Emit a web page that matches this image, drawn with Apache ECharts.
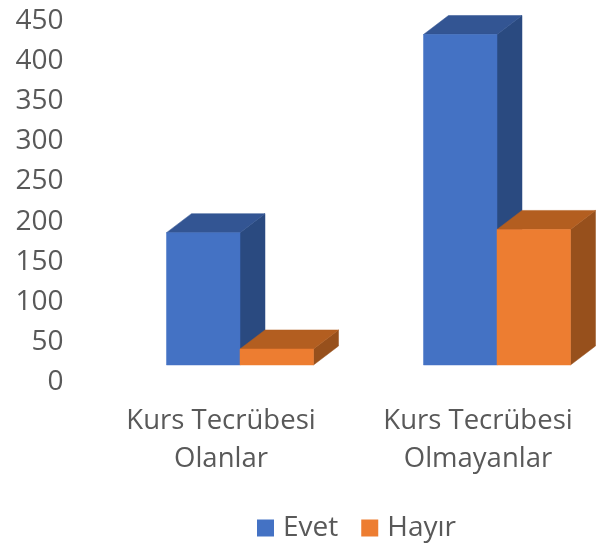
<!DOCTYPE html>
<html>
<head>
<meta charset="utf-8">
<style>html,body{margin:0;padding:0;background:#fff}#c{width:603px;height:547px}</style>
<script src="https://cdn.jsdelivr.net/npm/echarts@6/dist/echarts.min.js"></script>
</head>
<body>
<div id="c"></div>
<script>
const categories = ['Kurs Tecrübesi\nOlanlar', 'Kurs Tecrübesi\nOlmayanlar'];
const evet = [165, 412];
const hayir = [20, 169];
const yTicks = { min: 0, max: 450, interval: 50 };

const FONT = '"Open Sans", sans-serif';
const TEXT = '#595959';
const SHIFT_X = 19, SHIFT_Y = -17, DEPTH_X = 25, DEPTH_Y = -19, BAR_RATIO = 0.286;

function box(side, front, top, right) {
  return function (params, api) {
    const p = api.coord([api.value(0), api.value(1)]);
    const base = api.coord([api.value(0), 0]);
    const w = api.size([1, 0])[0] * BAR_RATIO;
    const cx = p[0] + SHIFT_X;
    const x0 = side < 0 ? cx - w : cx;
    const x1 = x0 + w;
    const yt = p[1] + SHIFT_Y;
    const yb = base[1] + SHIFT_Y;
    const poly = (pts, fill) => ({
      type: 'polygon',
      shape: { points: pts },
      style: { fill: fill, stroke: fill, lineWidth: 0.5 }
    });
    return {
      type: 'group',
      children: [
        poly([[x1, yt], [x1 + DEPTH_X, yt + DEPTH_Y], [x1 + DEPTH_X, yb + DEPTH_Y], [x1, yb]], right),
        poly([[x0, yt], [x0 + DEPTH_X, yt + DEPTH_Y], [x1 + DEPTH_X, yt + DEPTH_Y], [x1, yt]], top),
        poly([[x0, yt], [x1, yt], [x1, yb], [x0, yb]], front)
      ]
    };
  };
}

const chart = echarts.init(document.getElementById('c'), null, { renderer: 'canvas' });
chart.setOption({
  animation: false,
  backgroundColor: '#fff',
  grid: { left: 92.5, width: 514, top: 21, height: 361, outerBoundsMode: 'none' },
  legend: {
    data: [{ name: 'Evet', icon: 'rect' }, { name: 'Hayır', icon: 'rect' }],
    left: 257, top: 514, padding: 0, itemWidth: 17, itemHeight: 17, itemGap: 23,
    textStyle: { fontFamily: FONT, fontSize: 28, color: TEXT, padding: [3, 0, 0, 4] }
  },
  xAxis: {
    type: 'category', data: categories,
    axisLine: { show: false }, axisTick: { show: false },
    axisLabel: { fontFamily: FONT, fontSize: 27.5, color: TEXT, lineHeight: 38, margin: 20, interval: 0 }
  },
  yAxis: {
    type: 'value', min: yTicks.min, max: yTicks.max, interval: yTicks.interval,
    splitLine: { show: false }, axisLine: { show: false }, axisTick: { show: false },
    axisLabel: { fontFamily: FONT, fontSize: 28, color: TEXT, margin: 29 }
  },
  series: [
    { name: 'Evet', type: 'custom', clip: false, itemStyle: { color: '#4472C4' },
      encode: { x: 0, y: 1 },
      data: evet.map((v, i) => [i, v]),
      renderItem: box(-1, '#4472C4', '#335593', '#2A4A80') },
    { name: 'Hayır', type: 'custom', clip: false, itemStyle: { color: '#ED7D31' },
      encode: { x: 0, y: 1 },
      data: hayir.map((v, i) => [i, v]),
      renderItem: box(1, '#ED7D31', '#B35E20', '#97501C') }
  ]
});
</script>
</body>
</html>
